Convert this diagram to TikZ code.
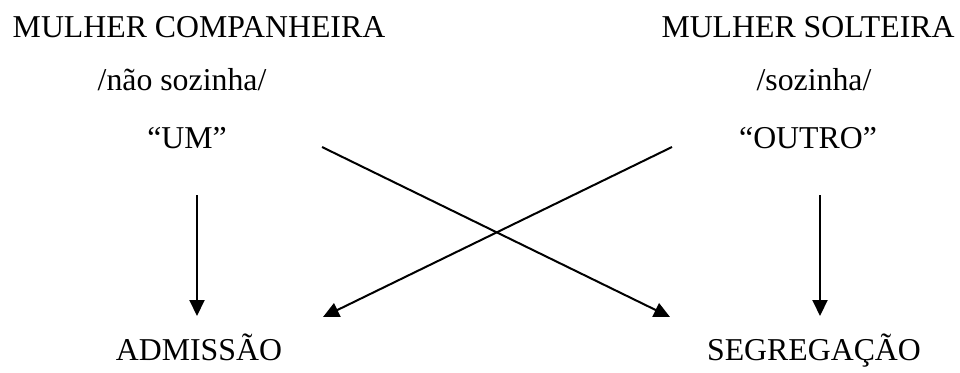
\documentclass[tikz,border=0pt]{standalone}
\usepackage{fontspec}
\setmainfont{Liberation Serif}
\usetikzlibrary{arrows.meta}
\begin{document}
\begin{tikzpicture}[x=1pt,y=-1pt,
  lbl/.style={anchor=base,inner sep=0pt,font=\fontsize{31.8}{38}\selectfont},
  conn/.style={line width=2pt,-{Triangle[length=16pt,width=15pt]}}]
\useasboundingbox (0,0) rectangle (960,372);
\node[lbl] (mc) at (199,37) {MULHER COMPANHEIRA};
\node[lbl] (ns) at (182,90) {/não sozinha/};
\node[lbl] (um) at (187,148) {“UM”};
\node[lbl] (ms) at (808,37) {MULHER SOLTEIRA};
\node[lbl] (so) at (814,90) {/sozinha/};
\node[lbl] (ou) at (808,148) {“OUTRO”};
\node[lbl] (ad) at (199,360) {ADMISSÃO};
\node[lbl] (se) at (814,360) {SEGREGAÇÃO};
\coordinate (l1) at (197,195);
\coordinate (l2) at (197,316);
\coordinate (r1) at (820,195);
\coordinate (r2) at (820,316);
\coordinate (c1) at (322,147);
\coordinate (c2) at (670,317);
\coordinate (d1) at (672,147);
\coordinate (d2) at (323,317);
\draw[conn] (l1) -- (l2);
\draw[conn] (r1) -- (r2);
\draw[conn] (c1) -- (c2);
\draw[conn] (d1) -- (d2);
\end{tikzpicture}
\end{document}
